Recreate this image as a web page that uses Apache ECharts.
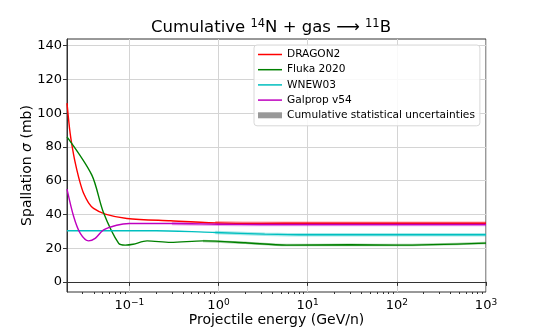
<!DOCTYPE html>
<html>
<head>
<meta charset="UTF-8">
<title></title>
<script src="https://cdn.jsdelivr.net/npm/echarts@6/dist/echarts.min.js"></script>
<style>
  html, body { margin: 0; padding: 0; background: #fff; }
  #main { width: 540px; height: 329px; }
</style>
</head>
<body>
<div id="main"></div>
<script>
// energies (GeV/n) and cross sections (mb)
var dragonE = [0.02, 0.0217, 0.0238, 0.0259, 0.0282, 0.0307, 0.0349, 0.0397, 0.0537, 0.094, 0.29, 0.92, 3, 10, 100, 1000];
var dragonV = [106, 88, 75, 66, 58.4, 52.5, 46.9, 43.6, 40.2, 37.6, 36.2, 35.0, 34.7, 34.8, 34.8, 34.8];

var flukaE = [0.02, 0.038, 0.051, 0.076, 0.09, 0.11, 0.158, 0.29, 0.67, 2, 5.8, 30, 100, 1000];
var flukaV = [86, 63.3, 41.5, 22.8, 21.8, 22.3, 24.3, 23.4, 24.3, 23.2, 21.8, 22.0, 21.8, 23.0];

var wnewE = [0.02, 0.2, 0.92, 3.3, 10, 1000];
var wnewV = [30.3, 30.3, 29.3, 28.3, 27.9, 27.9];

var galpropE = [0.02, 0.0238, 0.0282, 0.0349, 0.0414, 0.051, 0.072, 0.1, 0.3, 1, 3, 1000];
var galpropV = [55, 38.6, 28.7, 24.3, 25.8, 30.7, 33.6, 34.6, 34.6, 34.2, 34.0, 34.0];

var xTicks = [0.1, 1, 10, 100, 1000];
var xMinorTicks = [0.03, 0.04, 0.05, 0.06, 0.07, 0.08, 0.09,
  0.2, 0.3, 0.4, 0.5, 0.6, 0.7, 0.8, 0.9,
  2, 3, 4, 5, 6, 7, 8, 9,
  20, 30, 40, 50, 60, 70, 80, 90,
  200, 300, 400, 500, 600, 700, 800, 900];
var yTicks = [0, 20, 40, 60, 80, 100, 120, 140];

function pairs(e, v) {
  return e.map(function (x, i) { return [x, v[i]]; });
}
function bandPairs(e, v) {
  return pairs(e, v).filter(function (p) { return p[0] >= 0.3; });
}

var font = 'DejaVu Sans';
var lineIcon = 'path://M0,0L24,0L24,1.5L0,1.5Z';
var myChart = echarts.init(document.getElementById('main'));

function modelLine(name, color, e, v) {
  return {
    name: name,
    type: 'line',
    symbol: 'none',
    smooth: 0.3,
    z: 3,
    lineStyle: { color: color, width: 1.4 },
    itemStyle: { color: color },
    data: pairs(e, v)
  };
}
function band(name, color, e, v, w) {
  return {
    name: name + ' band',
    type: 'line',
    symbol: 'none',
    smooth: 0.3,
    silent: true,
    z: 2,
    lineStyle: { color: color, width: w, opacity: 0.35 },
    data: bandPairs(e, v)
  };
}

var option = {
  animation: false,
  title: {
    text: 'Cumulative {s|14}N + gas \u27F6 {s|11}B',
    left: 266,
    textAlign: 'center',
    top: 13,
    textStyle: {
      fontFamily: font,
      fontSize: 16.5,
      fontWeight: 'normal',
      color: '#000',
      rich: {
        s: { fontFamily: font, fontSize: 11.5, color: '#000', padding: [0, 0, 8, 0] }
      }
    }
  },
  grid: {
    left: 67,
    right: 54,
    top: 39,
    bottom: 37,
    outerBoundsMode: 'none',
    containLabel: false,
    show: true,
    borderColor: '#333',
    borderWidth: 1
  },
  legend: {
    orient: 'vertical',
    left: 254,
    top: 45,
    padding: [3, 5, 4, 4],
    itemWidth: 24,
    itemHeight: 6,
    itemGap: 2.2,
    symbolKeepAspect: true,
    backgroundColor: 'rgba(255,255,255,0.85)',
    borderColor: '#d8d8d8',
    borderWidth: 1,
    borderRadius: 3,
    textStyle: { fontFamily: font, fontSize: 10.6, color: '#000', lineHeight: 13 },
    data: [
      { name: 'DRAGON2', icon: lineIcon },
      { name: 'Fluka 2020', icon: lineIcon },
      { name: 'WNEW03', icon: lineIcon },
      { name: 'Galprop v54', icon: lineIcon },
      { name: 'Cumulative statistical uncertainties', icon: 'rect' }
    ]
  },
  xAxis: [{
    type: 'log',
    logBase: 10,
    min: 0.02,
    max: 1000,
    name: 'Projectile energy (GeV/n)',
    nameLocation: 'middle',
    nameGap: 21,
    nameMoveOverlap: false,
    nameTextStyle: { fontFamily: font, fontSize: 14, color: '#000' },
    axisLine: { show: true, lineStyle: { color: '#333', width: 1 } },
    axisTick: { show: true, length: 4, lineStyle: { color: '#333' }, customValues: xTicks },
    minorTick: { show: false },
    axisLabel: {
      customValues: xTicks,
      fontFamily: font,
      fontSize: 13,
      color: '#000',
      margin: 6,
      formatter: function (val) {
        var ex = Math.round(Math.log10(val));
        return '10{s|' + (ex < 0 ? '\u2212' + (-ex) : ex) + '}';
      },
      rich: {
        s: { fontFamily: font, fontSize: 9, color: '#000', padding: [0, 0, 7, 0] }
      }
    },
    splitLine: { show: true, lineStyle: { color: '#d4d4d4', width: 1 } }
  }, {
    // minor ticks of the log axis
    type: 'log',
    logBase: 10,
    min: 0.02,
    max: 1000,
    position: 'bottom',
    axisLine: { show: false },
    axisTick: { show: true, length: 2, lineStyle: { color: '#333' }, customValues: xMinorTicks },
    axisLabel: { show: false },
    splitLine: { show: false }
  }],
  yAxis: {
    type: 'value',
    min: -6,
    max: 144,
    name: 'Spallation {i|\u03C3} (mb)',
    nameLocation: 'middle',
    nameGap: 33,
    nameMoveOverlap: false,
    nameTextStyle: {
      fontFamily: font, fontSize: 14, color: '#000',
      rich: { i: { fontFamily: font, fontSize: 14, fontStyle: 'italic', color: '#000' } }
    },
    axisLine: { show: true, lineStyle: { color: '#333', width: 1 } },
    axisTick: { show: true, length: 4, lineStyle: { color: '#333' }, customValues: yTicks },
    axisLabel: {
      customValues: yTicks,
      fontFamily: font,
      fontSize: 13,
      color: '#000',
      margin: 5
    },
    splitLine: { show: true, lineStyle: { color: '#d4d4d4', width: 1 } }
  },
  series: [
    band('DRAGON2', '#ff0000', dragonE, dragonV, 3.5),
    band('Galprop v54', '#bf00bf', galpropE, galpropV, 3.5),
    band('WNEW03', '#00bfbf', wnewE, wnewV, 3.5),
    band('Fluka 2020', '#008000', flukaE, flukaV, 2.5),
    modelLine('DRAGON2', '#ff0000', dragonE, dragonV),
    modelLine('Fluka 2020', '#008000', flukaE, flukaV),
    modelLine('WNEW03', '#00bfbf', wnewE, wnewV),
    modelLine('Galprop v54', '#bf00bf', galpropE, galpropV),
    {
      name: 'Cumulative statistical uncertainties',
      type: 'line',
      symbol: 'none',
      itemStyle: { color: '#999999' },
      lineStyle: { color: '#999999' },
      data: []
    }
  ]
};
myChart.setOption(option);
</script>
</body>
</html>
